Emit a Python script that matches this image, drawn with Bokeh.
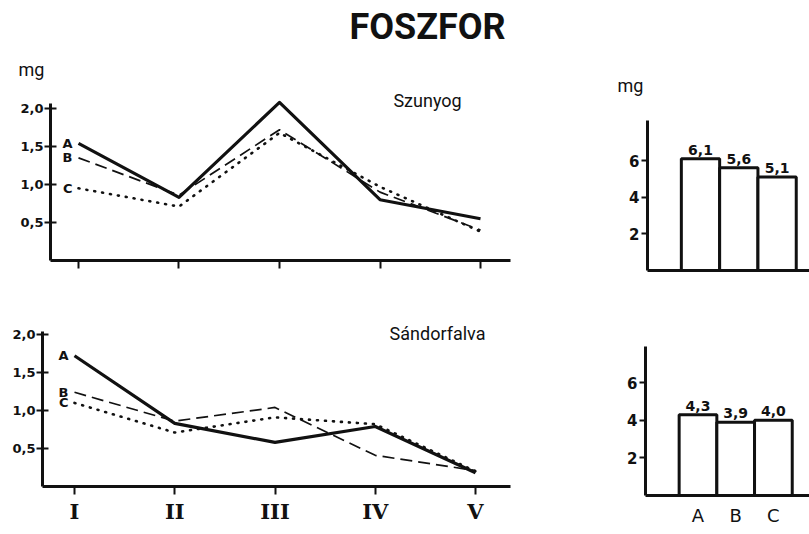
from bokeh.plotting import figure
from bokeh.layouts import column, row
from bokeh.models import Range1d, FixedTicker, Label, ColumnDataSource
from bokeh.core.properties import value
from bokeh.embed import file_html
from bokeh.resources import INLINE

# ---- data ----
periods = ["I", "II", "III", "IV", "V"]
groups = ["A", "B", "C"]
y_ticks = [0.5, 1.0, 1.5, 2.0]
y_tick_labels = ["0,5", "1,0", "1,5", "2,0"]
bar_ticks = [2, 4, 6]

szunyog_A = [1.54, 0.83, 2.08, 0.80, 0.55]
szunyog_B = [1.35, 0.86, 1.72, 0.90, 0.40]
szunyog_C = [0.95, 0.71, 1.68, 0.97, 0.38]

sandorfalva_A = [1.72, 0.83, 0.58, 0.79, 0.18]
sandorfalva_B = [1.24, 0.86, 1.04, 0.41, 0.21]
sandorfalva_C = [1.10, 0.71, 0.91, 0.82, 0.20]

szunyog_total = [6.1, 5.6, 5.1]
sandorfalva_total = [4.3, 3.9, 4.0]

FONT = "DejaVu Sans"
HAND = "Roboto"
INK = "#111111"


def base_fig(w, h, xr, yr):
    p = figure(width=w, height=h, x_range=Range1d(*xr), y_range=Range1d(*yr),
               output_backend="svg", toolbar_location=None, title_location=None,
               min_border=0)
    p.grid.visible = False
    p.outline_line_color = None
    p.background_fill_color = "white"
    p.border_fill_color = "white"
    for ax in p.axis:
        ax.axis_line_width = 3
        ax.axis_line_color = INK
        ax.major_tick_line_width = 2
        ax.major_tick_line_color = INK
        ax.minor_tick_line_color = None
        ax.major_label_text_font = FONT
        ax.major_label_text_color = INK
        ax.major_label_text_font_style = "bold"
    return p


def line_panel(series, xr, yr, yaxis_x, ytop, xright, w, h, show_xlabels):
    p = base_fig(w, h, xr, yr)
    xs = list(range(1, len(periods) + 1))
    styles = [dict(line_width=3.2, line_dash="solid"),
              dict(line_width=1.7, line_dash="12 6"),
              dict(line_width=2.6, line_dash="1 7", line_cap="round")]
    for ys, st in zip(series, styles):
        p.line(xs, ys, line_color=INK, line_join="round", **st)
    src = ColumnDataSource(dict(x=[1] * 3, y=[s[0] for s in series], t=groups))
    p.text("x", "y", text="t", source=src, x_offset=-6, text_align="right",
           text_baseline="middle", text_font=value(FONT), text_font_size="13px",
           text_font_style="bold", text_color=INK)
    xa, ya = p.xaxis[0], p.yaxis[0]
    xa.fixed_location = 0
    xa.bounds = (yaxis_x, xright)
    xa.ticker = FixedTicker(ticks=xs)
    xa.major_tick_in = 0
    xa.major_tick_out = 8
    if show_xlabels:
        xa.major_label_overrides = {i: lab for i, lab in zip(xs, periods)}
        xa.major_label_text_font = "DejaVu Serif"
        xa.major_label_text_font_size = "21px"
        xa.major_label_standoff = 5
    else:
        xa.major_label_text_color = None
    ya.fixed_location = yaxis_x
    ya.bounds = (0, ytop)
    ya.ticker = FixedTicker(ticks=y_ticks)
    ya.major_label_overrides = {t: lab for t, lab in zip(y_ticks, y_tick_labels)}
    ya.major_tick_in = 6
    ya.major_tick_out = 6
    ya.major_label_standoff = 1
    ya.major_label_text_font_size = "13px"
    return p


def bar_panel(vals, xr, yr, yaxis_x, ytop, w, h, show_xlabels):
    p = base_fig(w, h, xr, yr)
    xs = list(range(1, len(groups) + 1))
    src = ColumnDataSource(dict(x=xs, top=vals,
                                lab=[f"{v:.1f}".replace(".", ",") for v in vals]))
    p.vbar(x="x", top="top", width=1.0, bottom=0, source=src, fill_color="white",
           line_color=INK, line_width=3)
    p.text("x", "top", text="lab", source=src, y_offset=-4, text_align="center",
           text_baseline="bottom", text_font=value(FONT), text_font_size="14px",
           text_font_style="bold", text_color=INK)
    xa, ya = p.xaxis[0], p.yaxis[0]
    xa.fixed_location = 0
    xa.bounds = (yaxis_x, xr[1])
    xa.ticker = FixedTicker(ticks=xs)
    xa.major_tick_in = 0
    xa.major_tick_out = 0
    if show_xlabels:
        xa.major_label_overrides = {i: g for i, g in zip(xs, groups)}
        xa.major_label_text_font_size = "18px"
        xa.major_label_text_font_style = "normal"
        xa.major_label_standoff = 10
    else:
        xa.major_label_text_color = None
    ya.fixed_location = yaxis_x
    ya.bounds = (0, ytop)
    ya.ticker = FixedTicker(ticks=bar_ticks)
    ya.major_tick_in = 0
    ya.major_tick_out = 6
    ya.major_label_standoff = 2
    ya.major_label_text_font_size = "15px"
    return p


def add_label(p, x, y, text, size, style="normal", font=HAND):
    p.add_layout(Label(x=x, y=y, text=text, text_font=font, text_font_size=size,
                       text_font_style=style, text_color=INK, text_align="center",
                       text_baseline="middle"))


tl = line_panel([szunyog_A, szunyog_B, szunyog_C], (0.2239, 5.8955), (-0.3947, 3.4211),
                0.7214, 2.07, 5.30, 570, 290, False)
tr = bar_panel(szunyog_total, (-2.394, 3.846), (-1.091, 14.73), -0.384, 8.2,
               239, 290, False)
bl = line_panel([sandorfalva_A, sandorfalva_B, sandorfalva_C], (0.2618, 5.9476),
                (-0.6316, 2.579), 0.6808, 2.04, 5.35, 570, 244, True)
br = bar_panel(sandorfalva_total, (-2.382, 3.958), (-2.074, 10.90), -0.393, 7.9,
               239, 244, True)

add_label(tl, 4.473, 3.066, "FOSZFOR", "36px", style="bold")
add_label(tl, 0.532, 2.513, "mg", "18px")
add_label(tl, 4.473, 2.105, "Szunyog", "18px")
add_label(tr, -0.827, 10.09, "mg", "18px")
add_label(bl, 4.621, 2.013, "Sándorfalva", "18px")

layout = column(row(tl, tr), row(bl, br))
open("out.html", "w").write(file_html(layout, INLINE))
